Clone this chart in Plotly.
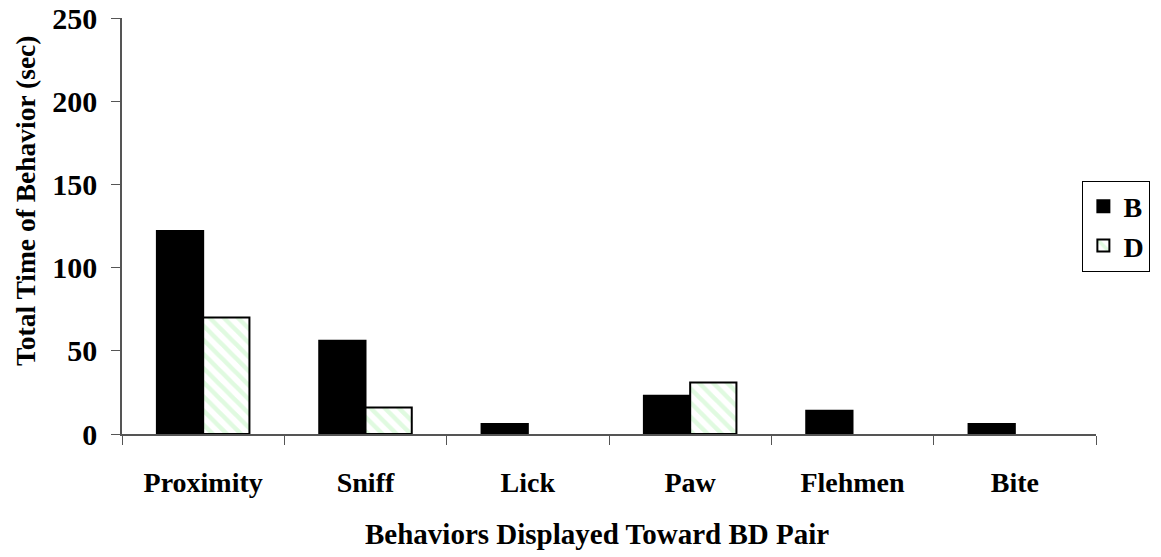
import plotly.graph_objects as go

categories = ["Proximity", "Sniff", "Lick", "Paw", "Flehmen", "Bite"]
b_values = [122, 56, 6, 23, 14, 6]
d_values = [70, 16, None, 31, None, None]
y_ticks = [0, 50, 100, 150, 200, 250]

FONT = "Liberation Serif, Times New Roman, serif"

fig = go.Figure()
fig.add_trace(go.Bar(
    name="B", x=categories, y=b_values,
    marker=dict(color="black", line=dict(color="black", width=2)),
))
fig.add_trace(go.Bar(
    name="D", x=categories, y=d_values,
    marker=dict(color="white", line=dict(color="black", width=2),
                pattern=dict(shape="\\", fgcolor="#c2f5c2", bgcolor="white",
                             size=10, solidity=0.45)),
))

fig.update_layout(
    width=1161, height=557,
    margin=dict(l=122, r=64, t=18, b=123),
    barmode="group", bargap=0.43, bargroupgap=0,
    plot_bgcolor="white", paper_bgcolor="white",
    font=dict(family=FONT, size=27, color="black"),
    showlegend=True,
    legend=dict(x=0.985, y=0.5, xanchor="left", yanchor="middle",
                bordercolor="black", borderwidth=1,
                font=dict(family=FONT, size=28, color="black", weight="bold"),
                itemwidth=30, tracegroupgap=10),
    xaxis=dict(
        tickfont=dict(family=FONT, size=28, weight="bold"),
        showline=True, linecolor="#555555", linewidth=1.5,
        ticks="outside", tickson="boundaries", ticklen=9, tickcolor="#555555",
        ticklabelstandoff=23,
        showgrid=False, automargin=False,
    ),
    yaxis=dict(
        tickfont=dict(family=FONT, size=30, weight="bold"),
        range=[0, 250], tickvals=y_ticks,
        showline=True, linecolor="#555555", linewidth=1.5,
        ticks="outside", ticklen=9, tickcolor="#555555",
        ticklabelstandoff=8,
        showgrid=False, zeroline=False, automargin=False,
    ),
    annotations=[
        dict(text="<b>Total Time of Behavior (sec)</b>", textangle=-90,
             xref="paper", yref="paper", x=0, xshift=-97, y=0.56,
             xanchor="center", yanchor="middle", showarrow=False,
             font=dict(family=FONT, size=27.5, color="black")),
        dict(text="<b>Behaviors Displayed Toward BD Pair</b>",
             xref="paper", yref="paper", x=0.488, y=0, yshift=-100,
             xanchor="center", yanchor="middle", showarrow=False,
             font=dict(family=FONT, size=29, color="black")),
    ],
)

fig.write_html("out.html")
